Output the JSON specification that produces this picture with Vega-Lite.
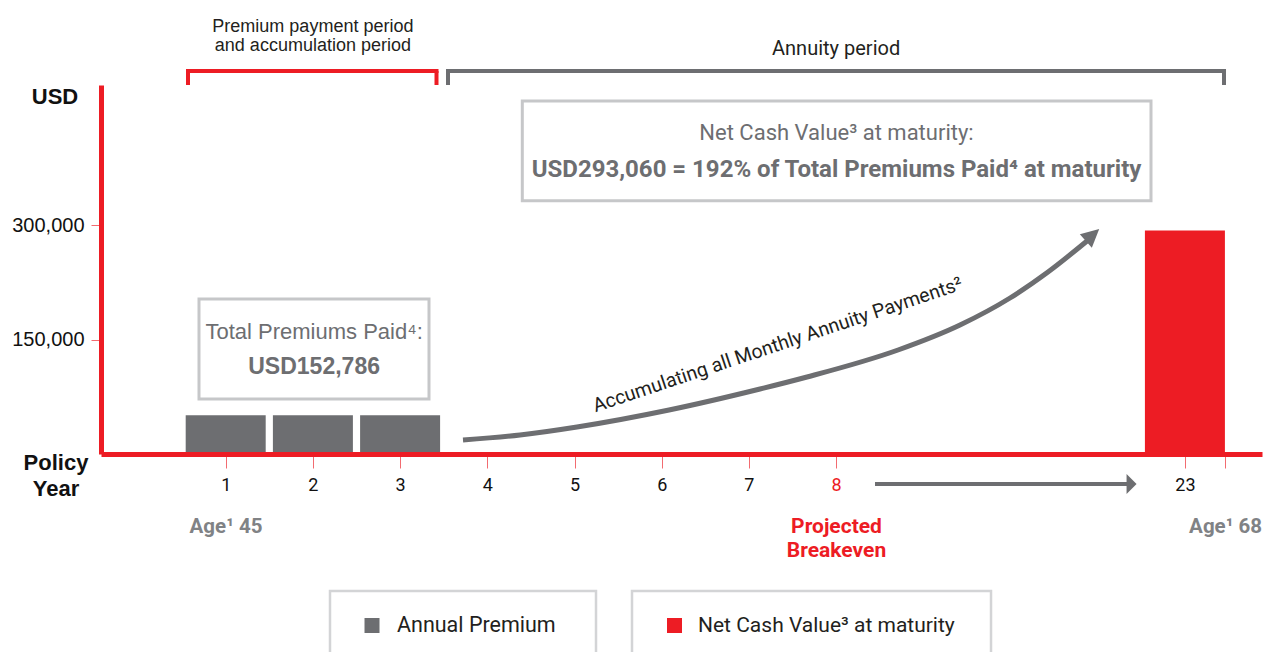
{
  "$schema": "https://vega.github.io/schema/vega-lite/v6.json",
  "width": 1161,
  "height": 369,
  "autosize": {"type": "none"},
  "padding": {"left": 101, "top": 85, "right": 1, "bottom": 198},
  "background": "white",
  "config": {"view": {"stroke": null}, "font": "Liberation Sans"},
  "datasets": {
    "bars": [
      {"year": "1", "s": 1, "v": 50929, "series": "Annual Premium"},
      {"year": "2", "s": 2, "v": 50929, "series": "Annual Premium"},
      {"year": "3", "s": 3, "v": 50929, "series": "Annual Premium"},
      {"year": "23", "s": 12, "v": 293060, "series": "Net Cash Value at maturity"}
    ],
    "curve": [
      {"s": 3.7213, "v": 18363},
      {"s": 4.375, "v": 24921},
      {"s": 5.0287, "v": 35415},
      {"s": 6.0837, "v": 57713},
      {"s": 7.1273, "v": 85257},
      {"s": 7.6663, "v": 100997},
      {"s": 8.7099, "v": 136412},
      {"s": 9.4209, "v": 169203},
      {"s": 9.9943, "v": 204617},
      {"s": 10.43, "v": 238720},
      {"s": 10.8773, "v": 279381}
    ]
  },
  "data": {"values": [{}]},
  "layer": [
    {
      "data": {"name": "bars"},
      "mark": {"type": "bar", "width": 80},
      "encoding": {
        "x": {
          "field": "s", "type": "quantitative",
          "scale": {"domain": [-0.43, 12.884], "nice": false, "zero": false, "padding": 0},
          "axis": {
            "title": null, "grid": false, "zindex": 1,
            "values": [1, 2, 3, 4, 5, 6, 7, 8, 12, 12.46],
            "labelExpr": "datum.value == 12 ? '23' : (datum.value > 12.2 ? '' : format(datum.value, 'd'))",
            "domainColor": "#ed1c24", "domainWidth": 5,
            "tickColor": "#f26b70", "tickWidth": 1, "tickSize": 14,
            "labelFont": "Roboto", "labelFontSize": 18,
            "labelColor": {"condition": {"test": "datum.value == 8", "value": "#ed1c24"}, "value": "#111111"},
            "labelPadding": 8, "labelOverlap": false, "labelFlush": false, "labelBound": false
          }
        },
        "y": {
          "field": "v", "type": "quantitative",
          "scale": {"domain": [0, 484000], "nice": false, "padding": 0},
          "axis": {
            "title": null, "grid": false, "zindex": 1,
            "values": [150000, 300000],
            "labelExpr": "format(datum.value, ',')",
            "domainColor": "#ed1c24", "domainWidth": 5,
            "tickColor": "#f26b70", "tickWidth": 1, "tickSize": 10,
            "labelFont": "Liberation Sans", "labelFontSize": 20, "labelColor": "#111111",
            "labelPadding": 7
          }
        },
        "color": {"field": "series", "type": "nominal",
          "scale": {"domain": ["Annual Premium", "Net Cash Value at maturity"], "range": ["#6d6e71", "#ed1c24"]},
          "legend": null}
      }
    },
    {
      "data": {"name": "curve"},
      "mark": {"type": "line", "color": "#6d6e71", "strokeWidth": 5, "interpolate": "monotone"},
      "encoding": {
        "x": {"field": "s", "type": "quantitative", "scale": {"domain": [-0.43, 12.884], "nice": false, "zero": false, "padding": 0}},
        "y": {"field": "v", "type": "quantitative", "scale": {"domain": [0, 484000], "nice": false, "padding": 0}}
      }
    },
    {
      "mark": {"type": "point", "shape": "M -1 -1 L 1 0 L -1 1 Z", "filled": true, "color": "#6d6e71", "opacity": 1, "size": 324, "angle": -42},
      "encoding": {"x": {"datum": 10.9404}, "y": {"datum": 287251}}
    },
    {
      "mark": {"type": "rule", "color": "#6d6e71", "strokeWidth": 4},
      "encoding": {"x": {"datum": 8.446}, "x2": {"datum": 11.36}, "y": {"datum": -39350}}
    },
    {
      "mark": {"type": "point", "shape": "M -0.5 -1 L 0.5 0 L -0.5 1 Z", "filled": true, "color": "#6d6e71", "opacity": 1, "size": 400},
      "encoding": {"x": {"datum": 11.388}, "y": {"datum": -39350}}
    },
    {
      "mark": {"type": "rule", "color": "#ed1c24", "strokeWidth": 4, "strokeCap": "square"},
      "encoding": {"x": {"datum": 0.5677}, "x2": {"datum": 3.4174}, "y": {"datum": 502362}}
    },
    {
      "mark": {"type": "rule", "color": "#ed1c24", "strokeWidth": 4},
      "encoding": {"x": {"datum": 0.5677}, "y": {"datum": 502362}, "y2": {"datum": 484000}}
    },
    {
      "mark": {"type": "rule", "color": "#ed1c24", "strokeWidth": 4},
      "encoding": {"x": {"datum": 3.4174}, "y": {"datum": 502362}, "y2": {"datum": 484000}}
    },
    {
      "mark": {"type": "rule", "color": "#6d6e71", "strokeWidth": 4, "strokeCap": "square"},
      "encoding": {"x": {"datum": 3.5493}, "x2": {"datum": 12.4484}, "y": {"datum": 502362}}
    },
    {
      "mark": {"type": "rule", "color": "#6d6e71", "strokeWidth": 4},
      "encoding": {"x": {"datum": 3.5493}, "y": {"datum": 502362}, "y2": {"datum": 484000}}
    },
    {
      "mark": {"type": "rule", "color": "#6d6e71", "strokeWidth": 4},
      "encoding": {"x": {"datum": 12.4484}, "y": {"datum": 502362}, "y2": {"datum": 484000}}
    },
    {
      "mark": {"type": "rect", "fill": "transparent", "stroke": "#c6c7c9", "strokeWidth": 3},
      "encoding": {"x": {"datum": 4.4014}, "x2": {"datum": 11.611}, "y": {"datum": 463012}, "y2": {"datum": 332241}}
    },
    {
      "mark": {"type": "rect", "fill": "transparent", "stroke": "#c6c7c9", "strokeWidth": 3},
      "encoding": {"x": {"datum": 0.6938}, "x2": {"datum": 3.3314}, "y": {"datum": 203306}, "y2": {"datum": 72141}}
    },
    {
      "mark": {"type": "rect", "fill": "transparent", "stroke": "#d3d4d6", "strokeWidth": 2.5},
      "encoding": {"x": {"datum": 2.1961}, "x2": {"datum": 5.2466}, "y": {"datum": -179696}, "y2": {"datum": -276758}}
    },
    {
      "mark": {"type": "rect", "fill": "transparent", "stroke": "#d3d4d6", "strokeWidth": 2.5},
      "encoding": {"x": {"datum": 5.6594}, "x2": {"datum": 9.7764}, "y": {"datum": -179696}, "y2": {"datum": -276758}}
    },
    {
      "mark": {"type": "point", "shape": "square", "filled": true, "color": "#6d6e71", "opacity": 1, "size": 225},
      "encoding": {"x": {"datum": 2.6778}, "y": {"datum": -224948}}
    },
    {
      "mark": {"type": "point", "shape": "square", "filled": true, "color": "#ed1c24", "opacity": 1, "size": 225},
      "encoding": {"x": {"datum": 6.1468}, "y": {"datum": -224948}}
    },
    {
      "mark": {"type": "text", "text": "Annual Premium", "align": "left", "baseline": "middle", "font": "Roboto", "fontSize": 21.5, "color": "#231f20"},
      "encoding": {"x": {"datum": 2.9644}, "y": {"datum": -225604}}
    },
    {
      "mark": {"type": "text", "text": "Net Cash Value³ at maturity", "align": "left", "baseline": "middle", "font": "Roboto", "fontSize": 21, "color": "#231f20"},
      "encoding": {"x": {"datum": 6.4163}, "y": {"datum": -225604}}
    },
    {
      "mark": {"type": "text", "text": ["Premium payment period", "and accumulation period"], "align": "center", "baseline": "middle", "fontSize": 18, "lineHeight": 19, "color": "#231f20"},
      "encoding": {"x": {"datum": 2.0}, "y": {"datum": 560731}}
    },
    {
      "mark": {"type": "text", "text": "Annuity period", "align": "center", "baseline": "middle", "font": "Roboto", "fontSize": 20, "color": "#231f20"},
      "encoding": {"x": {"datum": 8.0}, "y": {"datum": 531218}}
    },
    {
      "mark": {"type": "text", "text": "USD", "align": "center", "baseline": "middle", "fontSize": 22, "fontWeight": "bold", "color": "#111111"},
      "encoding": {"x": {"datum": -0.9576}, "y": {"datum": 468259}}
    },
    {
      "mark": {"type": "text", "text": ["Policy", "Year"], "align": "center", "baseline": "middle", "fontSize": 22, "lineHeight": 26, "fontWeight": "bold", "color": "#111111"},
      "encoding": {"x": {"datum": -0.9461}, "y": {"datum": -11805}}
    },
    {
      "mark": {"type": "text", "text": "Age¹ 45", "align": "center", "baseline": "middle", "font": "Roboto", "fontSize": 20.5, "fontWeight": "bold", "color": "#808285"},
      "encoding": {"x": {"datum": 1.0034}, "y": {"datum": -95750}}
    },
    {
      "mark": {"type": "text", "text": "Age¹ 68", "align": "center", "baseline": "middle", "font": "Roboto", "fontSize": 20.5, "fontWeight": "bold", "color": "#808285"},
      "encoding": {"x": {"datum": 12.4656}, "y": {"datum": -95750}}
    },
    {
      "mark": {"type": "text", "text": ["Projected", "Breakeven"], "align": "center", "baseline": "middle", "font": "Roboto", "fontSize": 21, "lineHeight": 24, "fontWeight": "bold", "color": "#ed1c24"},
      "encoding": {"x": {"datum": 8.0046}, "y": {"datum": -95750}}
    },
    {
      "mark": {"type": "text", "text": "Total Premiums Paid⁴:", "align": "center", "baseline": "middle", "fontSize": 22, "color": "#6d6e71"},
      "encoding": {"x": {"datum": 2.0138}, "y": {"datum": 160021}}
    },
    {
      "mark": {"type": "text", "text": "USD152,786", "align": "center", "baseline": "middle", "fontSize": 23, "fontWeight": "bold", "color": "#6d6e71"},
      "encoding": {"x": {"datum": 2.0138}, "y": {"datum": 114114}}
    },
    {
      "mark": {"type": "text", "text": "Net Cash Value³ at maturity:", "align": "center", "baseline": "middle", "font": "Roboto", "fontSize": 22, "color": "#6d6e71"},
      "encoding": {"x": {"datum": 8.0046}, "y": {"datum": 421040}}
    },
    {
      "mark": {"type": "text", "text": "USD293,060 = 192% of Total Premiums Paid⁴ at maturity", "align": "center", "baseline": "middle", "font": "Roboto", "fontSize": 24, "fontWeight": "bold", "color": "#6d6e71"},
      "encoding": {"x": {"datum": 8.0046}, "y": {"datum": 372509}}
    },
    {
      "mark": {"type": "text", "text": "Accumulating all Monthly Annuity Payments²", "align": "center", "baseline": "middle", "font": "Roboto", "fontSize": 19.5, "angle": -18.5, "color": "#231f20"},
      "encoding": {"x": {"datum": 7.33}, "y": {"datum": 142970}}
    }
  ]
}
